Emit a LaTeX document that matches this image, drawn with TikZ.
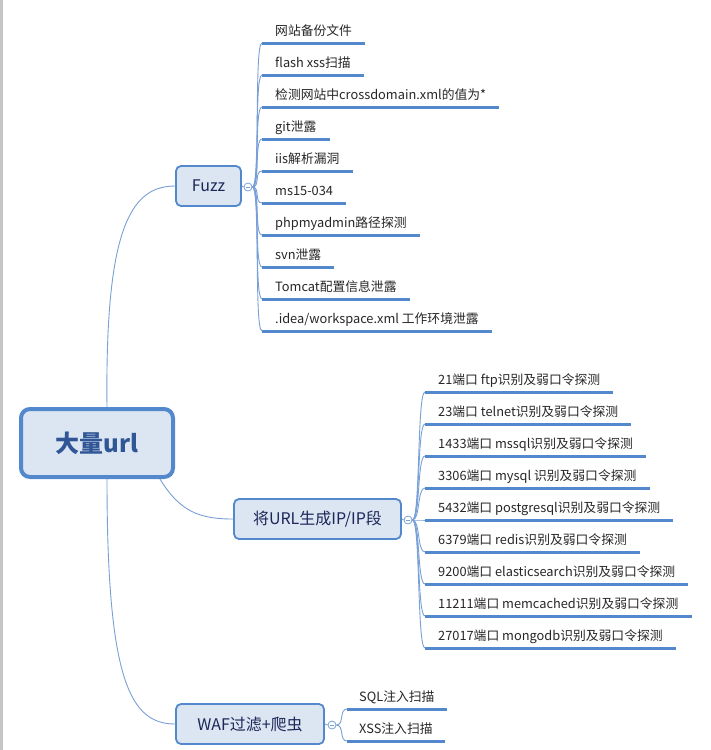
\documentclass[tikz,border=0pt]{standalone}
\usepackage{fontspec}
\setmainfont{Noto Sans CJK SC}
\usepackage{xcolor}
\usepackage{tikz}
\usetikzlibrary{positioning}
\definecolor{xmblue}{RGB}{84,136,204}
\definecolor{xmline}{RGB}{120,160,215}
\definecolor{xmfill}{RGB}{220,230,242}
\definecolor{xmnavy}{RGB}{28,38,88}
\definecolor{xmroot}{RGB}{48,86,150}

\begin{document}
\begin{tikzpicture}[x=1pt, y=-1pt,
    % Styles
    rootbox/.style={
        rectangle,
        rounded corners=9pt,
        fill=xmfill,
        draw=xmblue,
        line width=4pt,
        minimum width=152pt,
        minimum height=68pt,
        font=\fontsize{24}{28}\selectfont\bfseries,
        text=xmroot
    },
    branch/.style={
        rectangle,
        rounded corners=5pt,
        fill=xmfill,
        draw=xmblue,
        line width=1.8pt,
        minimum height=40pt,
        font=\fontsize{16}{19}\selectfont,
        text=xmnavy
    },
    fold/.style={
        circle,
        draw=xmline,
        fill=white,
        line width=0.8pt,
        minimum size=8pt,
        inner sep=0pt,
        path picture={\draw[xmline, line width=0.8pt]
            ([xshift=1.8pt]path picture bounding box.west) --
            ([xshift=-1.8pt]path picture bounding box.east);}
    },
    leaf/.style={
        inner xsep=13pt,
        inner ysep=3.5pt,
        text height=10pt,
        text depth=3.5pt,
        font=\fontsize{12.8}{15}\selectfont,
        text=black!85
    },
    uline/.style={draw=xmblue, line width=3pt},
    link/.style={draw=xmline, line width=0.9pt}
]
\useasboundingbox (0,0) rectangle (710,750);
\fill[gray!45] (0,0) rectangle (2.5,750);

% Root
\node[rootbox] (root) at (97,443) {大量url};

% Branches
\node[branch, minimum width=65pt] (fuzz) at (208.5,186) {Fuzz};
\node[branch, minimum width=167pt] (ipseg) at (317.5,519) {将URL生成IP/IP段};
\node[branch, minimum width=148pt] (waf) at (250,724) {WAF过滤+爬虫};

\draw[link] ([xshift=10pt]root.north) .. controls (105,230) and (130,186) .. (fuzz.west);
\draw[link] ([xshift=-15pt]root.south east) .. controls (180,512) and (200,519) .. (ipseg.west);
\draw[link] ([xshift=10pt]root.south) .. controls (107,680) and (130,724) .. (waf.west);

% Fold markers
\node[fold] (fuzzc) at (248,187) {};
\node[fold] (ipc) at (408,520) {};
\node[fold] (wafc) at (332,725) {};
\draw[link] (fuzz.east) -- (fuzzc.west);
\draw[link] (ipseg.east) -- (ipc.west);
\draw[link] (waf.east) -- (wafc.west);

% Fuzz leaves
\foreach \txt [count=\i] in {网站备份文件, flash xss扫描, 检测网站中crossdomain.xml的值为*,
    git泄露, iis解析漏洞, ms15-034, phpmyadmin路径探测, svn泄露,
    Tomcat配置信息泄露, .idea/workspace.xml 工作环境泄露} {
    \node[leaf, anchor=south west] (f\i) at (262,{11+32*\i}) {\txt};
    \draw[uline] (f\i.south west) -- (f\i.south east);
    \draw[link] (fuzzc.east) .. controls +(8,0) and +(-8,0) .. (f\i.south west);
}

% Port leaves
\foreach \txt [count=\i] in {21端口 ftp识别及弱口令探测, 23端口 telnet识别及弱口令探测,
    1433端口 mssql识别及弱口令探测, 3306端口 mysql 识别及弱口令探测,
    5432端口 postgresql识别及弱口令探测, 6379端口 redis识别及弱口令探测,
    9200端口 elasticsearch识别及弱口令探测, 11211端口 memcached识别及弱口令探测,
    27017端口 mongodb识别及弱口令探测} {
    \node[leaf, anchor=south west] (p\i) at (425,{360+32*\i}) {\txt};
    \draw[uline] (p\i.south west) -- (p\i.south east);
    \draw[link] (ipc.east) .. controls +(8,0) and +(-8,0) .. (p\i.south west);
}

% WAF leaves
\foreach \txt [count=\i] in {SQL注入扫描, XSS注入扫描} {
    \node[leaf, anchor=south west, inner xsep=12pt] (w\i) at (347,{677+32*\i}) {\txt};
    \draw[uline] (w\i.south west) -- (w\i.south east);
    \draw[link] (wafc.east) .. controls +(8,0) and +(-8,0) .. (w\i.south west);
}

\end{tikzpicture}
\end{document}
